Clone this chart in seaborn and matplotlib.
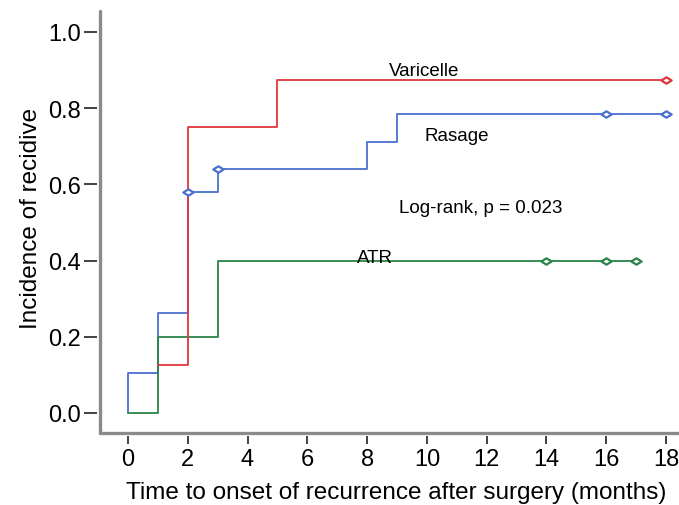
import matplotlib
matplotlib.use("Agg")
import matplotlib.pyplot as plt
from matplotlib.lines import Line2D
from matplotlib.path import Path
import seaborn as sns
import pandas as pd

# ---- data ----
varicelle_t = [1, 2, 5, 18]
varicelle_y = [0.125, 0.75, 0.875, 0.875]
rasage_t = [0, 0, 1, 2, 3, 8, 9, 18]
rasage_y = [0.0, 0.105, 0.262, 0.58, 0.64, 0.71, 0.785, 0.785]
atr_t = [0, 1, 3, 17]
atr_y = [0.0, 0.2, 0.4, 0.4]

varicelle_cens_t = [18]
varicelle_cens_y = [0.875]
rasage_cens_t = [2, 3, 16, 18]
rasage_cens_y = [0.58, 0.64, 0.785, 0.785]
atr_cens_t = [14, 16, 17]
atr_cens_y = [0.4, 0.4, 0.4]

x_ticks = [0, 2, 4, 6, 8, 10, 12, 14, 16, 18]
y_ticks = [0.0, 0.2, 0.4, 0.6, 0.8, 1.0]

RED = "#e0363c"
BLUE = "#4a6fcf"
GREEN = "#2a8548"

sns.set_theme(style="white")
plt.rcParams["font.family"] = ["Liberation Sans", "DejaVu Sans"]

W, H = 679, 506
fig = plt.figure(figsize=(W / 100, H / 100), dpi=100)
ax_l, ax_r, ax_t, ax_b = 97, 679, 12, 437
ax = fig.add_axes([ax_l / W, (H - ax_b) / H, (ax_r - ax_l) / W, (ax_b - ax_t) / H])

diamond = Path([(-1, 0), (0, 0.62), (1, 0), (0, -0.62), (-1, 0)],
               [Path.MOVETO, Path.LINETO, Path.LINETO, Path.LINETO, Path.CLOSEPOLY])

series = [
    ("Rasage", rasage_t, rasage_y, rasage_cens_t, rasage_cens_y, BLUE),
    ("ATR", atr_t, atr_y, atr_cens_t, atr_cens_y, GREEN),
    ("Varicelle", varicelle_t, varicelle_y, varicelle_cens_t, varicelle_cens_y, RED),
]
for name, t, y, ct, cy, col in series:
    df = pd.DataFrame({"t": t, "y": y})
    sns.lineplot(data=df, x="t", y="y", ax=ax, color=col, lw=1.3,
                 drawstyle="steps-post", estimator=None, sort=False)
    dc = pd.DataFrame({"t": ct, "y": cy})
    sns.scatterplot(data=dc, x="t", y="y", ax=ax, marker=diamond, s=55,
                    facecolor="white", edgecolor=col, linewidth=1.6, zorder=5)

ax.set_xlim(-1.037, 18.435)
ax.set_ylim(-0.0604, 1.0551)
ax.set_xticks(x_ticks)
ax.set_xticklabels([str(v) for v in x_ticks])
ax.set_yticks(y_ticks)
ax.set_yticklabels([f"{v:.1f}" for v in y_ticks])
for s in ax.spines.values():
    s.set_visible(False)
ax.tick_params(axis="y", direction="out", length=9.5, width=1.3, color="#333333",
               labelsize=17, labelcolor="black", pad=2, left=True)
ax.tick_params(axis="x", direction="out", length=6, width=1.3, color="#333333",
               labelsize=17, labelcolor="black", pad=3, bottom=True)
ax.set_xlabel("Time to onset of recurrence after surgery (months)", fontsize=17.5,
              color="black")
ax.set_ylabel("Incidence of recidive", fontsize=17.5, color="black")
ax.xaxis.set_label_coords((396.5 - ax_l) / (ax_r - ax_l), -(482 - ax_b) / (ax_b - ax_t))
ax.yaxis.set_label_coords(-(97 - 42) / (ax_r - ax_l), (ax_b - 218) / (ax_b - ax_t))

# spines drawn slightly detached from tick marks
fig.add_artist(Line2D([100 / W, 100 / W], [(H - 12) / H, (H - 434) / H],
                      transform=fig.transFigure, color="#8a8a8a", lw=2.4))
fig.add_artist(Line2D([100 / W, 1.0], [(H - 434) / H, (H - 434) / H],
                      transform=fig.transFigure, color="#8a8a8a", lw=2.4))

ax.text(9.9, 0.886, "Varicelle", fontsize=13.5, ha="center", va="baseline", color="black")
ax.text(11.0, 0.716, "Rasage", fontsize=13.5, ha="center", va="baseline", color="black")
ax.text(11.8, 0.528, "Log-rank, p = 0.023", fontsize=13.5, ha="center", va="baseline", color="black")
ax.text(8.25, 0.395, "ATR", fontsize=13.5, ha="center", va="baseline", color="black")

fig.savefig("out.png", dpi=100)
